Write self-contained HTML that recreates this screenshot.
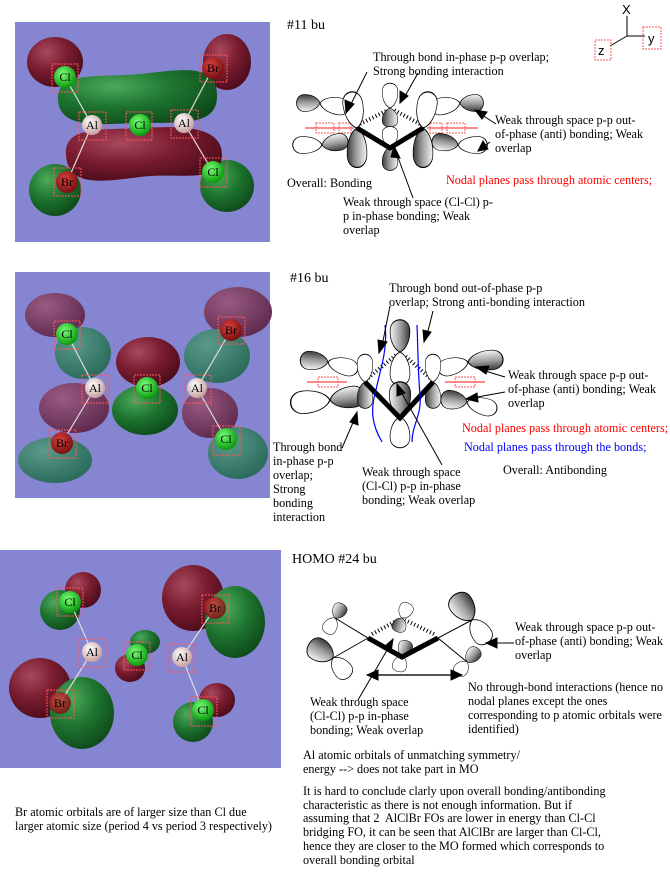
<!DOCTYPE html>
<html><head><meta charset="utf-8">
<style>
body{margin:0;background:#fff;width:670px;height:872px;overflow:hidden;position:relative;font-family:"Liberation Serif",serif;font-size:12.2px;color:#000;line-height:14px}
.t{position:absolute;white-space:nowrap}
svg{position:absolute;left:0;top:0}
</style></head><body>
<svg width="670" height="872" viewBox="0 0 670 872">
<defs>
<radialGradient id="rr" cx="35%" cy="30%" r="75%"><stop offset="0" stop-color="#a8485c"/><stop offset=".5" stop-color="#7a1c30"/><stop offset="1" stop-color="#4a0c1a"/></radialGradient>
<radialGradient id="gg" cx="35%" cy="30%" r="75%"><stop offset="0" stop-color="#4caa5a"/><stop offset=".5" stop-color="#1e7530"/><stop offset="1" stop-color="#0e4a1a"/></radialGradient>
<radialGradient id="mr" cx="35%" cy="30%" r="75%"><stop offset="0" stop-color="#9a5a82"/><stop offset="1" stop-color="#5e2a4e"/></radialGradient>
<radialGradient id="mg" cx="35%" cy="30%" r="75%"><stop offset="0" stop-color="#5a9a8a"/><stop offset="1" stop-color="#2a6a5a"/></radialGradient>
<radialGradient id="aCl" cx="40%" cy="35%" r="65%"><stop offset="0" stop-color="#7aff7a"/><stop offset="1" stop-color="#0a9a0a"/></radialGradient>
<radialGradient id="aBr" cx="40%" cy="35%" r="65%"><stop offset="0" stop-color="#d84040"/><stop offset="1" stop-color="#7a1010"/></radialGradient>
<radialGradient id="aAl" cx="40%" cy="35%" r="65%"><stop offset="0" stop-color="#fff"/><stop offset="1" stop-color="#c8a0a0"/></radialGradient>
<linearGradient id="sh" x1="0" y1="0" x2="0" y2="1"><stop offset="0" stop-color="#f4f4f4"/><stop offset=".55" stop-color="#9a9a9a"/><stop offset="1" stop-color="#3a3a3a"/></linearGradient>
<path id="lb" d="M0,0 C3,-10 12,-15 21,-14 C32,-12 32,12 21,14 C12,15 3,10 0,0Z"/>
</defs>
<style>
.s{fill:url(#sh);stroke:#000;stroke-width:1;vector-effect:non-scaling-stroke}
.w{fill:#fff;stroke:#000;stroke-width:1;vector-effect:non-scaling-stroke}
.bx{fill:none;stroke:#f55;stroke-width:1;stroke-dasharray:2 1}
.lbl{font-family:"Liberation Serif",serif;font-size:12px}
.hb{stroke:#000;stroke-width:4;stroke-dasharray:1 2.5}
</style>

<!-- Panel 1 -->
<rect x="15" y="22" width="255" height="220" fill="#8585d2"/>
<ellipse cx="55" cy="62" rx="28" ry="25" fill="url(#rr)"/>
<ellipse cx="227" cy="62" rx="24" ry="28" fill="url(#rr)"/>
<ellipse cx="55" cy="190" rx="26" ry="26" fill="url(#gg)"/>
<ellipse cx="227" cy="186" rx="27" ry="26" fill="url(#gg)"/>
<path d="M58,100 C56,70 100,78 140,74 C180,70 217,62 217,95 C218,127 180,122 140,123 C100,124 60,130 58,100Z" fill="url(#gg)"/>
<path d="M66,155 C64,126 100,130 140,128 C180,126 222,125 222,155 C222,185 180,172 140,177 C100,182 68,187 66,155Z" fill="url(#rr)"/>
<g stroke="#ddd" stroke-width="1.2"><line x1="65" y1="77" x2="92" y2="125"/><line x1="213" y1="68" x2="184" y2="123"/><line x1="92" y1="125" x2="67" y2="182"/><line x1="184" y1="123" x2="213" y2="172"/></g>
<circle cx="65" cy="77" r="11" fill="url(#aCl)"/><circle cx="213" cy="68" r="11" fill="url(#aBr)"/>
<circle cx="92" cy="125" r="10" fill="url(#aAl)"/><circle cx="140" cy="125" r="11" fill="url(#aCl)"/><circle cx="184" cy="123" r="10" fill="url(#aAl)"/>
<circle cx="67" cy="182" r="11" fill="url(#aBr)"/><circle cx="213" cy="172" r="11" fill="url(#aCl)"/>
<g class="bx"><rect x="52" y="64" width="26" height="28"/><rect x="200" y="55" width="27" height="27"/><rect x="79" y="112" width="27" height="28"/><rect x="126" y="112" width="26" height="28"/><rect x="171" y="110" width="27" height="28"/><rect x="54" y="168" width="27" height="28"/><rect x="200" y="158" width="27" height="29"/></g>
<g class="lbl" text-anchor="middle"><text x="65" y="81">Cl</text><text x="213" y="72">Br</text><text x="92" y="129">Al</text><text x="140" y="129">Cl</text><text x="184" y="127">Al</text><text x="67" y="186">Br</text><text x="213" y="176">Cl</text></g>

<!-- Panel 2 -->
<rect x="15" y="272" width="255" height="226" fill="#8585d2"/>
<ellipse cx="55" cy="315" rx="30" ry="22" fill="url(#mr)"/>
<ellipse cx="238" cy="312" rx="34" ry="25" fill="url(#mr)"/>
<ellipse cx="83" cy="353" rx="28" ry="26" fill="url(#mg)"/>
<ellipse cx="217" cy="356" rx="33" ry="27" fill="url(#mg)"/>
<ellipse cx="148" cy="362" rx="32" ry="25" fill="url(#rr)"/>
<ellipse cx="145" cy="410" rx="33" ry="25" fill="url(#gg)"/>
<ellipse cx="74" cy="408" rx="35" ry="25" fill="url(#mr)"/>
<ellipse cx="210" cy="413" rx="28" ry="25" fill="url(#mr)"/>
<ellipse cx="55" cy="460" rx="37" ry="23" fill="url(#mg)"/>
<ellipse cx="238" cy="453" rx="30" ry="26" fill="url(#mg)"/>
<g stroke="#ddd" stroke-width="1.2"><line x1="67" y1="334" x2="95" y2="388"/><line x1="231" y1="330" x2="197" y2="388"/><line x1="95" y1="388" x2="62" y2="443"/><line x1="197" y1="388" x2="226" y2="439"/></g>
<circle cx="67" cy="334" r="11" fill="url(#aCl)"/><circle cx="231" cy="330" r="11" fill="url(#aBr)"/>
<circle cx="95" cy="388" r="10" fill="url(#aAl)"/><circle cx="147" cy="388" r="11" fill="url(#aCl)"/><circle cx="197" cy="388" r="10" fill="url(#aAl)"/>
<circle cx="62" cy="443" r="11" fill="url(#aBr)"/><circle cx="226" cy="439" r="11" fill="url(#aCl)"/>
<g class="bx"><rect x="54" y="321" width="26" height="28"/><rect x="218" y="317" width="27" height="27"/><rect x="82" y="375" width="27" height="28"/><rect x="134" y="375" width="26" height="28"/><rect x="184" y="375" width="27" height="28"/><rect x="49" y="430" width="27" height="28"/><rect x="213" y="426" width="27" height="29"/></g>
<g class="lbl" text-anchor="middle"><text x="67" y="338">Cl</text><text x="231" y="334">Br</text><text x="95" y="392">Al</text><text x="147" y="392">Cl</text><text x="197" y="392">Al</text><text x="62" y="447">Br</text><text x="226" y="443">Cl</text></g>

<!-- Panel 3 -->
<rect x="0" y="550" width="281" height="218" fill="#8585d2"/>
<ellipse cx="83" cy="590" rx="18" ry="18" fill="url(#rr)"/>
<ellipse cx="60" cy="610" rx="20" ry="20" fill="url(#gg)"/>
<ellipse cx="193" cy="598" rx="31" ry="33" fill="url(#rr)"/>
<ellipse cx="235" cy="622" rx="30" ry="36" fill="url(#gg)"/>
<ellipse cx="145" cy="642" rx="15" ry="12" fill="url(#gg)"/>
<ellipse cx="130" cy="668" rx="15" ry="14" fill="url(#rr)"/>
<ellipse cx="40" cy="688" rx="31" ry="30" fill="url(#rr)"/>
<ellipse cx="82" cy="713" rx="32" ry="36" fill="url(#gg)"/>
<ellipse cx="217" cy="700" rx="18" ry="17" fill="url(#rr)"/>
<ellipse cx="193" cy="722" rx="20" ry="20" fill="url(#gg)"/>
<g stroke="#ddd" stroke-width="1.2"><line x1="70" y1="602" x2="92" y2="652"/><line x1="215" y1="608" x2="182" y2="657"/><line x1="92" y1="652" x2="60" y2="703"/><line x1="182" y1="657" x2="203" y2="710"/></g>
<circle cx="70" cy="602" r="11" fill="url(#aCl)"/><circle cx="215" cy="608" r="11" fill="url(#aBr)" opacity=".85"/>
<circle cx="92" cy="652" r="10" fill="url(#aAl)"/><circle cx="137" cy="655" r="11" fill="url(#aCl)"/><circle cx="182" cy="657" r="10" fill="url(#aAl)"/>
<circle cx="60" cy="703" r="11" fill="url(#aBr)" opacity=".85"/><circle cx="203" cy="710" r="11" fill="url(#aCl)"/>
<g class="bx"><rect x="57" y="588" width="26" height="28"/><rect x="202" y="595" width="27" height="28"/><rect x="79" y="639" width="27" height="28"/><rect x="124" y="642" width="26" height="28"/><rect x="168" y="644" width="27" height="28"/><rect x="47" y="690" width="27" height="28"/><rect x="191" y="697" width="26" height="29"/></g>
<g class="lbl" text-anchor="middle"><text x="70" y="606">Cl</text><text x="215" y="612">Br</text><text x="92" y="656">Al</text><text x="137" y="659">Cl</text><text x="182" y="661">Al</text><text x="60" y="707">Br</text><text x="203" y="714">Cl</text></g>

<!-- axes -->
<g stroke="#000" stroke-width="1"><line x1="627" y1="16" x2="627" y2="36"/><line x1="627" y1="36" x2="645" y2="36"/><line x1="627" y1="36" x2="610" y2="46"/></g>
<rect x="643" y="27" width="18" height="22" class="bx"/><rect x="595" y="40" width="16" height="20" class="bx"/>
<g font-family="Liberation Sans,sans-serif" font-size="13"><text x="622" y="14">X</text><text x="648" y="43">y</text><text x="598" y="55">z</text></g>

<!-- Diagram 1 -->
<g stroke="#f66" stroke-width="1.5"><line x1="305" y1="128" x2="354" y2="128"/><line x1="427" y1="128" x2="478" y2="128"/></g>
<g class="bx"><rect x="316" y="123" width="18" height="10"/><rect x="339" y="123" width="12" height="10"/><rect x="430" y="123" width="12" height="10"/><rect x="447" y="123" width="18" height="10"/></g>
<g class="hb"><line x1="360" y1="124" x2="388" y2="110"/><line x1="420" y1="124" x2="394" y2="110"/></g>
<use href="#lb" class="w" transform="translate(320,103) rotate(10) scale(1.0,0.6)"/>
<use href="#lb" class="s" transform="translate(320,103) rotate(180) scale(0.8,0.6)"/>
<use href="#lb" class="s" transform="translate(322,145) rotate(-10) scale(0.9,0.6)"/>
<use href="#lb" class="w" transform="translate(322,145) rotate(180) scale(1.0,0.6)"/>
<use href="#lb" class="w" transform="translate(460,103) rotate(170) scale(1.0,0.6)"/>
<use href="#lb" class="s" transform="translate(460,103) rotate(0) scale(0.8,0.6)"/>
<use href="#lb" class="s" transform="translate(458,145) rotate(190) scale(0.9,0.6)"/>
<use href="#lb" class="w" transform="translate(458,145) rotate(0) scale(1.0,0.6)"/>
<use href="#lb" class="w" transform="translate(357,128) rotate(-100) scale(1.25,0.7)"/>
<use href="#lb" class="s" transform="translate(357,128) rotate(90) scale(1.35,0.7)"/>
<use href="#lb" class="w" transform="translate(423,128) rotate(-80) scale(1.25,0.7)"/>
<use href="#lb" class="s" transform="translate(423,128) rotate(90) scale(1.35,0.7)"/>
<use href="#lb" class="w" transform="translate(390,108) rotate(-90) scale(0.85,0.55)"/>
<use href="#lb" class="s" transform="translate(390,108) rotate(90) scale(0.65,0.55)"/>
<use href="#lb" class="w" transform="translate(390,147) rotate(-90) scale(0.7,0.55)"/>
<use href="#lb" class="s" transform="translate(390,147) rotate(90) scale(0.8,0.55)"/>
<polyline points="357,128 390,148 423,128" fill="none" stroke="#000" stroke-width="5"/>
<g stroke="#000" stroke-width="1" fill="#000">
<line x1="367" y1="72" x2="349" y2="108"/><polygon points="346,113 345,100 354,104"/>
<line x1="418" y1="73" x2="404" y2="98"/><polygon points="400,103 400,91 408,96"/>
<line x1="496" y1="124" x2="479" y2="113"/><polygon points="475,110 487,112 482,119"/>
<line x1="490" y1="142" x2="482" y2="148"/><polygon points="478,151 483,141 488,149"/>
<line x1="413" y1="198" x2="396" y2="152"/><polygon points="394,146 400,158 391,157"/>
</g>

<!-- Diagram 2 -->
<g stroke="#f66" stroke-width="1.5"><line x1="307" y1="382" x2="347" y2="382"/><line x1="445" y1="382" x2="485" y2="382"/></g>
<g class="bx"><rect x="318" y="377" width="20" height="10"/><rect x="455" y="377" width="20" height="10"/></g>
<g class="hb"><line x1="368" y1="378" x2="396" y2="355"/><line x1="430" y1="378" x2="404" y2="355"/></g>
<use href="#lb" class="s" transform="translate(328,362) rotate(185) scale(0.95,0.65)"/>
<use href="#lb" class="w" transform="translate(328,362) rotate(15) scale(1.05,0.6)"/>
<use href="#lb" class="w" transform="translate(330,400) rotate(175) scale(1.35,0.8)"/>
<use href="#lb" class="s" transform="translate(330,400) rotate(-8) scale(1.2,0.75)"/>
<use href="#lb" class="w" transform="translate(468,362) rotate(165) scale(1.05,0.6)"/>
<use href="#lb" class="s" transform="translate(468,362) rotate(-5) scale(1.2,0.7)"/>
<use href="#lb" class="s" transform="translate(467,402) rotate(188) scale(0.9,0.65)"/>
<use href="#lb" class="w" transform="translate(467,402) rotate(15) scale(1.05,0.6)"/>
<use href="#lb" class="w" transform="translate(365,382) rotate(-90) scale(0.95,0.55)"/>
<use href="#lb" class="s" transform="translate(365,382) rotate(90) scale(0.9,0.55)"/>
<use href="#lb" class="w" transform="translate(433,382) rotate(-90) scale(0.95,0.55)"/>
<use href="#lb" class="s" transform="translate(433,382) rotate(90) scale(0.9,0.55)"/>
<use href="#lb" class="s" transform="translate(400,352) rotate(-90) scale(1.1,0.7)"/>
<use href="#lb" class="w" transform="translate(400,352) rotate(90) scale(1.15,0.7)"/>
<use href="#lb" class="s" transform="translate(400,417) rotate(-90) scale(1.2,0.75)"/>
<use href="#lb" class="w" transform="translate(400,417) rotate(90) scale(1.05,0.7)"/>
<polyline points="365,382 400,418 433,382" fill="none" stroke="#000" stroke-width="5"/>
<g fill="none" stroke="#00f" stroke-width="1.2">
<path d="M385,325 C388,350 380,370 376,390 C370,410 372,425 382,442"/>
<path d="M417,325 C418,350 418,372 420,395 C422,415 412,425 412,442"/>
</g>
<g stroke="#000" stroke-width="1" fill="#000">
<line x1="390" y1="306" x2="382" y2="346"/><polygon points="379,353 378,340 387,342"/>
<line x1="433" y1="311" x2="427" y2="335"/><polygon points="424,342 423,330 431,332"/>
<line x1="505" y1="377" x2="482" y2="370"/><polygon points="476,367 489,366 486,374"/>
<line x1="505" y1="392" x2="472" y2="398"/><polygon points="466,399 477,393 478,402"/>
<line x1="342" y1="448" x2="355" y2="418"/><polygon points="357,412 358,425 350,422"/>
<line x1="442" y1="465" x2="400" y2="390"/><polygon points="397,384 405,393 397,396"/>
</g>

<!-- Diagram 3 -->
<g stroke="#000" stroke-width="1"><line x1="335" y1="618" x2="368" y2="638"/><line x1="333" y1="658" x2="368" y2="638"/><line x1="472" y1="620" x2="438" y2="638"/><line x1="467" y1="662" x2="438" y2="638"/></g>
<g class="hb"><line x1="372" y1="634" x2="398" y2="620"/><line x1="434" y1="634" x2="405" y2="620"/></g>
<use href="#lb" class="s" transform="translate(335,618) rotate(-60) scale(0.55,0.5)"/>
<use href="#lb" class="w" transform="translate(335,618) rotate(120) scale(0.6,0.5)"/>
<use href="#lb" class="s" transform="translate(333,658) rotate(-150) scale(0.95,0.8)"/>
<use href="#lb" class="w" transform="translate(333,658) rotate(50) scale(0.85,0.65)"/>
<use href="#lb" class="s" transform="translate(472,620) rotate(-125) scale(1.05,0.85)"/>
<use href="#lb" class="w" transform="translate(472,620) rotate(55) scale(0.95,0.7)"/>
<use href="#lb" class="s" transform="translate(467,662) rotate(-50) scale(0.6,0.5)"/>
<use href="#lb" class="w" transform="translate(467,662) rotate(130) scale(0.55,0.5)"/>
<use href="#lb" class="w" transform="translate(402,618) rotate(-65) scale(0.55,0.5)"/>
<use href="#lb" class="s" transform="translate(402,618) rotate(110) scale(0.5,0.5)"/>
<use href="#lb" class="s" transform="translate(402,656) rotate(-70) scale(0.55,0.5)"/>
<use href="#lb" class="w" transform="translate(402,656) rotate(105) scale(0.55,0.5)"/>
<polyline points="368,638 402,657 438,638" fill="none" stroke="#000" stroke-width="5"/>
<g stroke="#000" stroke-width="1" fill="#000">
<line x1="358" y1="700" x2="390" y2="645"/><polygon points="393,639 391,652 384,647"/>
<line x1="514" y1="643" x2="492" y2="643"/><polygon points="486,643 497,638 497,648"/>
<line x1="374" y1="675" x2="455" y2="675" stroke="#555" stroke-width="2"/><polygon points="367,675 378,670 378,680"/><polygon points="462,675 451,670 451,680"/>
</g>
</svg>

<div class="t" style="left:287px;top:19px;font-size:14px">#11 bu</div>
<div class="t" style="left:373px;top:50px">Through bond in-phase p-p overlap;<br>Strong bonding interaction</div>
<div class="t" style="left:495px;top:113px">Weak through space p-p out-<br>of-phase (anti) bonding; Weak<br>overlap</div>
<div class="t" style="left:287px;top:176px">Overall: Bonding</div>
<div class="t" style="left:446px;top:173px;color:#f00">Nodal planes pass through atomic centers;</div>
<div class="t" style="left:343px;top:195px">Weak through space (Cl-Cl) p-<br>p in-phase bonding; Weak<br>overlap</div>

<div class="t" style="left:290px;top:272px;font-size:14px">#16 bu</div>
<div class="t" style="left:389px;top:281px">Through bond out-of-phase p-p<br>overlap; Strong anti-bonding interaction</div>
<div class="t" style="left:508px;top:368px">Weak through space p-p out-<br>of-phase (anti) bonding; Weak<br>overlap</div>
<div class="t" style="left:462px;top:421px;color:#f00">Nodal planes pass through atomic centers;</div>
<div class="t" style="left:464px;top:440px;color:#00f">Nodal planes pass through the bonds;</div>
<div class="t" style="left:503px;top:463px">Overall: Antibonding</div>
<div class="t" style="left:273px;top:440px">Through bond<br>in-phase p-p<br>overlap;<br>Strong<br>bonding<br>interaction</div>
<div class="t" style="left:362px;top:465px">Weak through space<br>(Cl-Cl) p-p in-phase<br>bonding; Weak overlap</div>

<div class="t" style="left:292px;top:553px;font-size:14px">HOMO #24 bu</div>
<div class="t" style="left:515px;top:620px">Weak through space p-p out-<br>of-phase (anti) bonding; Weak<br>overlap</div>
<div class="t" style="left:468px;top:680px">No through-bond interactions (hence no<br>nodal planes except the ones<br>corresponding to p atomic orbitals were<br>identified)</div>
<div class="t" style="left:310px;top:695px">Weak through space<br>(Cl-Cl) p-p in-phase<br>bonding; Weak overlap</div>
<div class="t" style="left:303px;top:748px">Al atomic orbitals of unmatching symmetry/<br>energy --&gt; does not take part in MO</div>
<div class="t" style="left:303px;top:785px;line-height:13.7px">It is hard to conclude clarly upon overall bonding/antibonding<br>characteristic as there is not enough information. But if<br>assuming that 2&nbsp; AlClBr FOs are lower in energy than Cl-Cl<br>bridging FO, it can be seen that AlClBr are larger than Cl-Cl,<br>hence they are closer to the MO formed which corresponds to<br>overall bonding orbital</div>
<div class="t" style="left:15px;top:805px">Br atomic orbitals are of larger size than Cl due<br>larger atomic size (period 4 vs period 3 respectively)</div>
</body></html>
